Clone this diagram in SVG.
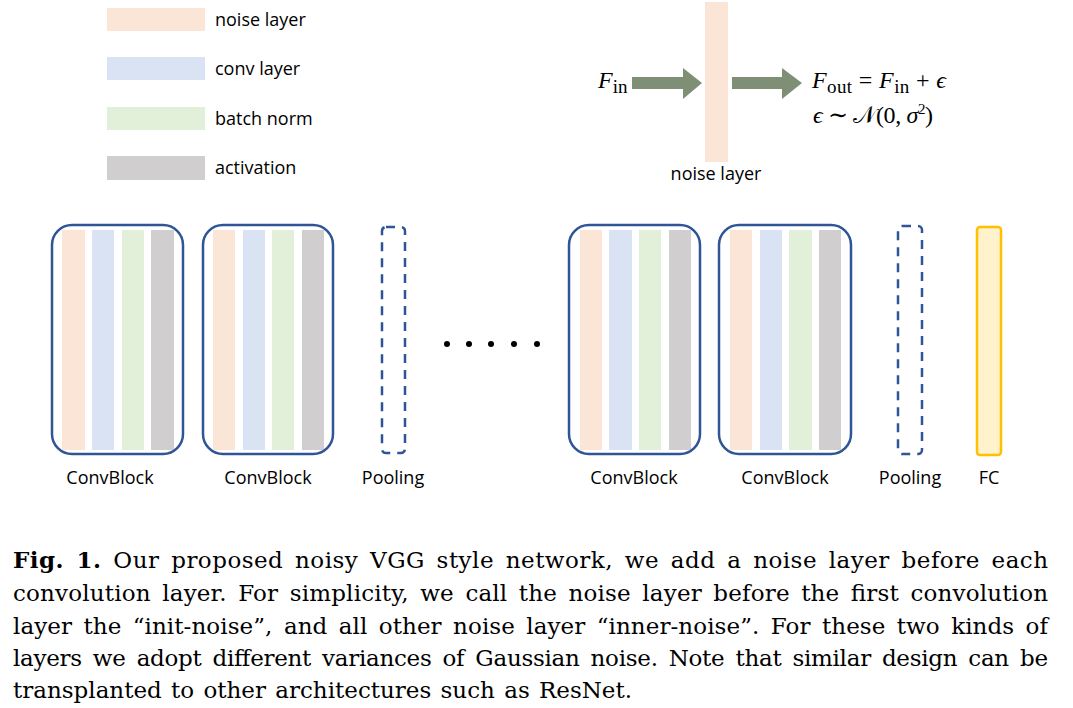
<svg xmlns="http://www.w3.org/2000/svg" width="1073" height="708" viewBox="0 0 1073 708">
<style>
.noise{fill:#FBE5D6}.conv{fill:#DAE3F3}.bn{fill:#E2F0D9}.act{fill:#D0CECE}
.blk{fill:none;stroke:#2F5597;stroke-width:2.5}
.pool{fill:none;stroke:#2F5597;stroke-width:2.5;stroke-dasharray:9,7}
.lbl{font-family:"Open Sans","Liberation Sans",sans-serif;font-size:18px;fill:#000}
.math{font-family:"Liberation Serif","DejaVu Serif",serif;font-size:24px;fill:#000}
.sub{font-size:19px}
.cap{font-family:"DejaVu Serif","Liberation Serif",serif;font-size:23px;fill:#000;word-spacing:4px}
.b{font-weight:bold}
.arrow{fill:#7E8F76}
</style>
<rect width="1073" height="708" fill="#fff"/>
<g id="legend">
<rect class="noise" x="107" y="8" width="98" height="23"/>
<rect class="conv" x="107" y="57" width="98" height="23"/>
<rect class="bn" x="107" y="107" width="98" height="23"/>
<rect class="act" x="107" y="156" width="98" height="24"/>
<text class="lbl" x="215" y="26">noise layer</text>
<text class="lbl" x="215" y="75">conv layer</text>
<text class="lbl" x="215" y="125">batch norm</text>
<text class="lbl" x="215" y="174">activation</text>
</g>
<g id="noise-illustration">
<rect class="noise" x="705" y="2" width="23" height="160"/>
<text class="lbl" x="716" y="180" text-anchor="middle">noise layer</text>
<text class="math" x="598" y="88"><tspan font-style="italic">F</tspan><tspan class="sub" dy="5">in</tspan></text>
<text class="math" x="812" y="88" textLength="134" lengthAdjust="spacing"><tspan font-style="italic">F</tspan><tspan class="sub" dy="5">out</tspan><tspan dy="-5"> = </tspan><tspan font-style="italic">F</tspan><tspan class="sub" dy="5">in</tspan><tspan dy="-5"> + </tspan><tspan font-style="italic">ϵ</tspan></text>
<text class="math" x="813" y="123" textLength="120" lengthAdjust="spacing"><tspan font-style="italic">ϵ</tspan> ∼ 𝒩(0, <tspan font-style="italic">σ</tspan><tspan font-size="15" dy="-9">2</tspan><tspan dy="9">)</tspan></text>
</g>
<g id="connectors">
<polygon class="arrow" points="632,77 683,77 683,68 702,83 683,99 683,89 632,89"/>
<polygon class="arrow" points="732,77 782,77 782,68 802,83 782,99 782,89 732,89"/>
</g>
<g id="convblock1">
<rect class="noise" x="62" y="230" width="23" height="220"/>
<rect class="conv" x="92" y="230" width="22" height="220"/>
<rect class="bn" x="122" y="230" width="22" height="220"/>
<rect class="act" x="151" y="230" width="23" height="220"/>
<rect class="blk" x="52" y="225" width="131" height="229" rx="20"/>
<text class="lbl" x="110" y="484" text-anchor="middle">ConvBlock</text>
</g>
<g id="convblock2">
<rect class="noise" x="213" y="230" width="22" height="220"/>
<rect class="conv" x="243" y="230" width="22" height="220"/>
<rect class="bn" x="272" y="230" width="22" height="220"/>
<rect class="act" x="302" y="230" width="22" height="220"/>
<rect class="blk" x="203" y="225" width="130" height="229" rx="20"/>
<text class="lbl" x="268" y="484" text-anchor="middle">ConvBlock</text>
</g>
<g id="pooling1">
<rect class="pool" x="382" y="227" width="23" height="226" rx="4"/>
<text class="lbl" x="393" y="484" text-anchor="middle">Pooling</text>
</g>
<g id="ellipsis">
<circle cx="447" cy="344" r="3"/><circle cx="469" cy="344" r="3"/><circle cx="491" cy="344" r="3"/><circle cx="514" cy="344" r="3"/><circle cx="537" cy="344" r="3"/>
</g>
<g id="convblock3">
<rect class="noise" x="580" y="230" width="22" height="220"/>
<rect class="conv" x="609" y="230" width="23" height="220"/>
<rect class="bn" x="639" y="230" width="22" height="220"/>
<rect class="act" x="669" y="230" width="22" height="220"/>
<rect class="blk" x="569" y="225" width="131" height="229" rx="20"/>
<text class="lbl" x="634" y="484" text-anchor="middle">ConvBlock</text>
</g>
<g id="convblock4">
<rect class="noise" x="730" y="230" width="22" height="220"/>
<rect class="conv" x="760" y="230" width="22" height="220"/>
<rect class="bn" x="789" y="230" width="23" height="220"/>
<rect class="act" x="819" y="230" width="22" height="220"/>
<rect class="blk" x="719" y="225" width="132" height="229" rx="20"/>
<text class="lbl" x="785" y="484" text-anchor="middle">ConvBlock</text>
</g>
<g id="pooling2">
<rect class="pool" x="898" y="226" width="24" height="228" rx="4"/>
<text class="lbl" x="910" y="484" text-anchor="middle">Pooling</text>
</g>
<g id="fc">
<rect x="977" y="227" width="24" height="228" rx="3" fill="#FFF2CC" stroke="#FFC000" stroke-width="2.5"/>
<text class="lbl" x="989" y="484" text-anchor="middle">FC</text>
</g>
<g id="caption">
<text class="cap" x="13" y="568" textLength="1035" lengthAdjust="spacing"><tspan class="b">Fig. 1.</tspan> Our proposed noisy VGG style network, we add a noise layer before each</text>
<text class="cap" x="13" y="601" textLength="1035" lengthAdjust="spacing">convolution layer. For simplicity, we call the noise layer before the first convolution</text>
<text class="cap" x="13" y="634" textLength="1035" lengthAdjust="spacing">layer the “init-noise”, and all other noise layer “inner-noise”. For these two kinds of</text>
<text class="cap" x="13" y="666" textLength="1035" lengthAdjust="spacing">layers we adopt different variances of Gaussian noise. Note that similar design can be</text>
<text class="cap" x="13" y="698" style="word-spacing:2px">transplanted to other architectures such as ResNet.</text>
</g>
</svg>
